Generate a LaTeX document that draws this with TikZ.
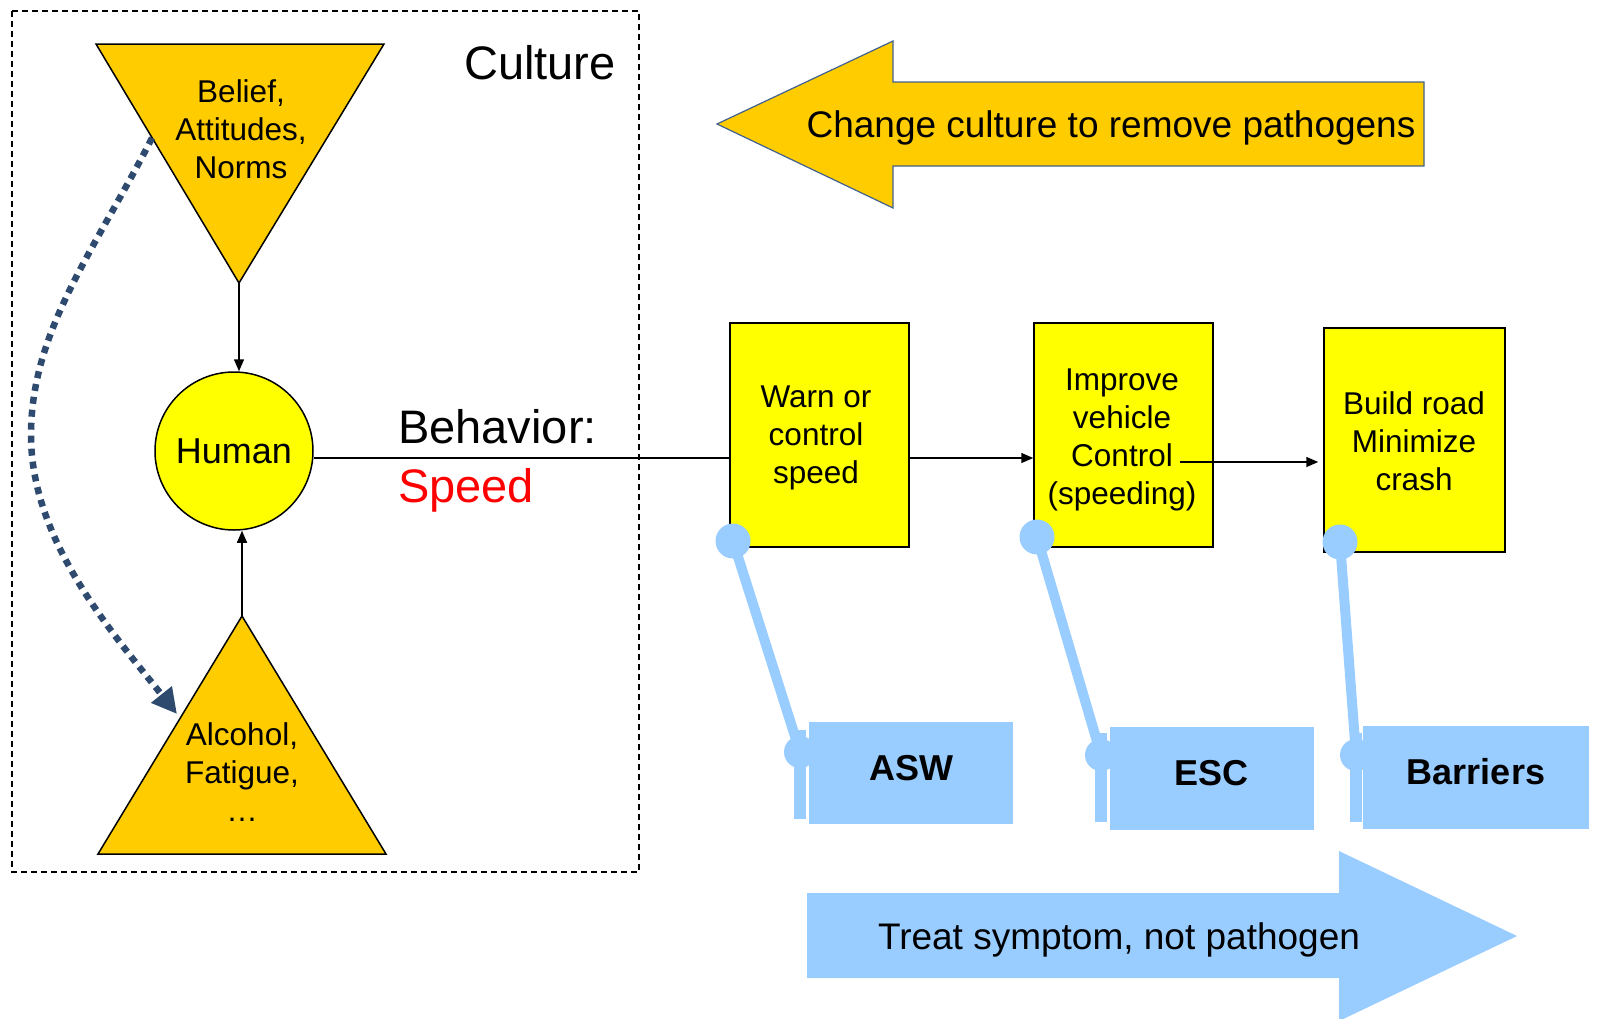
\documentclass[tikz,border=0pt]{standalone}
\usepackage{fontspec}
\setmainfont{Liberation Sans}
\usetikzlibrary{arrows.meta,calc}
\definecolor{boxyellow}{HTML}{FFFF00}
\definecolor{gold}{HTML}{FFCC00}
\definecolor{skyblue}{HTML}{99CCFF}
\definecolor{navyline}{HTML}{2E4A6F}
\definecolor{arrowedge}{HTML}{41618F}
\tikzset{
  ybox/.style={draw=black, line width=1.5pt, fill=boxyellow, align=center, inner sep=0pt,
    font=\fontsize{31.5}{38}\selectfont},
  bbox/.style={fill=skyblue, inner sep=0pt, font=\fontsize{36}{40}\selectfont\bfseries},
  pinline/.style={skyblue, line width=10pt},
  tri/.style={draw=black, line width=1.5pt, fill=gold, line join=miter},
  tritext/.style={align=center, inner sep=0pt, font=\fontsize{31.5}{38}\selectfont},
  conn/.style={draw=black, line width=1.5pt, -{Triangle[length=12pt,width=10pt]}},
  plain/.style={draw=black, line width=1.5pt},
  bigtext/.style={inner sep=0pt, font=\fontsize{37}{44}\selectfont}
}
\begin{document}
\begin{tikzpicture}[x=1pt,y=-1pt]
\useasboundingbox (0,0) rectangle (1600,1018);

% culture frame
\draw[black, line width=1.4pt, dash pattern=on 6pt off 4pt] (12,11) rectangle (639,872);
\node[anchor=east, inner sep=0pt, font=\fontsize{47}{56}\selectfont] (culture) at (616,63) {Culture};

% top (inverted) triangle
\coordinate (t1a) at (96,44);
\coordinate (t1b) at (384,44);
\coordinate (topapex) at (239,283);
\draw[tri] (t1a) -- (t1b) -- (topapex) -- cycle;
\node[tritext] (beliefs) at (241,129) {Belief,\\Attitudes,\\Norms};

% bottom triangle
\coordinate (botapex) at (242,616);
\coordinate (t2a) at (98,854);
\coordinate (t2b) at (386,854);
\draw[tri] (botapex) -- (t2b) -- (t2a) -- cycle;
\node[tritext] (alcohol) at (242,772) {Alcohol,\\Fatigue,\\…};

% human
\node[circle, draw=black, line width=1.5pt, fill=boxyellow, minimum size=158pt, inner sep=0pt,
  font=\fontsize{36}{40}\selectfont] (human) at (234,451) {Human};

\draw[conn] (topapex) -- (topapex |- human.north);
\draw[conn] (botapex) -- (botapex |- human.south);

% dotted culture arrow
\coordinate (dstart) at (152,138);
\coordinate (dmid) at (31,435);
\coordinate (dend) at (177,714);
\draw[navyline, line width=6.5pt, dash pattern=on 7pt off 6pt,
  -{Triangle[length=25pt,width=25pt]}]
  (dstart) .. controls (95,250) and (31,330) .. (dmid)
  .. controls (31,540) and (110,630) .. (dend);

% behavior label
\node[anchor=west, align=left, inner sep=0pt, font=\fontsize{47}{59}\selectfont] (behavior)
  at (398,461) {Behavior:\\\textcolor{red}{Speed}};

% yellow boxes
\node[ybox, minimum width=179pt, minimum height=224pt] (b1) at (819.5,435) {};
\node[ybox, minimum width=179pt, minimum height=224pt] (b2) at (1123.5,435) {};
\node[ybox, minimum width=181pt, minimum height=224pt] (b3) at (1414.5,440) {};
\node[tritext] (b1t) at (816,438) {Warn or\\control\\ speed};
\node[tritext] (b2t) at (1122,440) {Improve\\vehicle\\ Control\\(speeding)};
\node[tritext] (b3t) at (1414,441) {Build road\\Minimize\\crash};

% connectors
\draw[plain] ($(human.east)+(0,7)$) -- (b1.west |- 0,458);
\draw[conn] (b1.east |- 0,458) -- (b2.west |- 0,458);
\draw[conn, shorten >=5pt] ($(b2.center)+(56,27)$) -- (b3.west |- 0,462);

% blue boxes
\node[bbox, minimum width=204pt, minimum height=102pt] (asw) at (911,773) {\raisebox{11pt}{ASW}};
\node[bbox, minimum width=204pt, minimum height=103pt] (esc) at (1211.5,778.5) {\raisebox{12pt}{ESC}};
\node[bbox, minimum width=226pt, minimum height=103pt] (barr) at (1476,777.5) {\raisebox{12pt}{Barriers}};

% pins
\coordinate (p1t) at (733,541);  \coordinate (p1b) at (800,752);
\coordinate (p2t) at (1037,537); \coordinate (p2b) at (1101,755);
\coordinate (p3t) at (1340,542); \coordinate (p3b) at (1356,755);
\foreach \t/\b in {p1t/p1b, p2t/p2b, p3t/p3b}{
  \draw[pinline] (\t) -- (\b);
  \fill[skyblue] (\t) circle[radius=17.5pt];
  \fill[skyblue] (\b) circle[radius=16pt];
  \fill[skyblue] ($(\b)+(-6,-22)$) rectangle ($(\b)+(6,67)$);
}

% big arrows
\draw[arrowedge, line width=1.2pt, fill=gold, line join=miter]
  (717,124) -- (893,41) -- (893,82) -- (1424,82) -- (1424,166) -- (893,166) -- (893,208) -- cycle;
\node[bigtext] (change) at (1111,128) {Change culture to remove pathogens};

\fill[skyblue] (807,893) -- (1339,893) -- (1339,851) -- (1517,936) -- (1339,1021) -- (1339,978) -- (807,978) -- cycle;
\node[bigtext] (treat) at (1119,940) {Treat symptom, not pathogen};
\end{tikzpicture}
\end{document}
